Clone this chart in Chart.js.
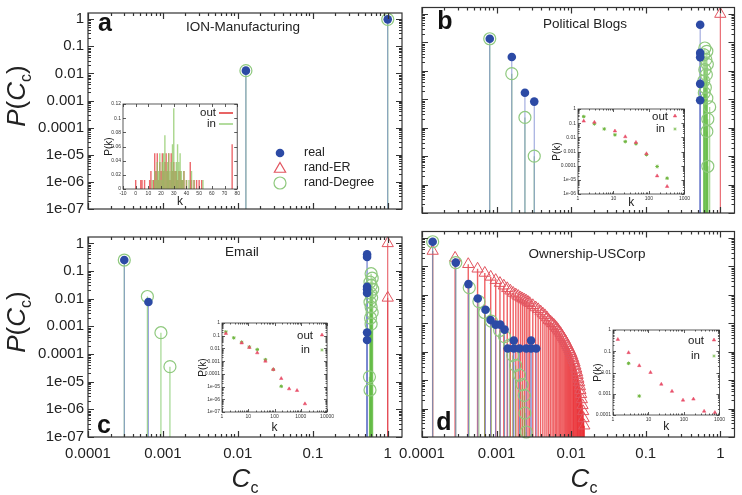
<!DOCTYPE html>
<html>
<head>
<meta charset="utf-8">
<title>Closeness centrality distributions</title>
<script src="https://cdn.jsdelivr.net/npm/chart.js@4.4.1/dist/chart.umd.min.js"></script>
<style>
  body { margin: 0; background: #fff; }
  #wrap { position: relative; width: 742px; height: 495px; overflow: hidden; font-family: "Liberation Sans", Arial, sans-serif; color: #222; }
  #wrap canvas { position: absolute; }
  .txt { position: absolute; z-index: 2; white-space: nowrap; line-height: 1; transform: translate(-50%, -50%); }
  .tag { font-weight: bold; font-size: 25px; color: #111; }
  .name { font-size: 13.5px; }
  .ax { font-size: 26px; }
  .ax sub { font-size: 16px; vertical-align: -6px; line-height: 0; }
  .rot { transform: translate(-50%, -50%) rotate(-90deg); }
</style>
</head>
<body>
<div id="wrap">
  <div class="txt tag" style="left:105px;top:22px">a</div>
  <div class="txt tag" style="left:445px;top:20px">b</div>
  <div class="txt tag" style="left:104px;top:424px">c</div>
  <div class="txt tag" style="left:444px;top:421px">d</div>
  <div class="txt name" style="left:243px;top:27px">ION-Manufacturing</div>
  <div class="txt name" style="left:585px;top:24px">Political Blogs</div>
  <div class="txt name" style="left:242px;top:252px">Email</div>
  <div class="txt name" style="left:587px;top:254px">Ownership-USCorp</div>
  <div class="txt ax rot" style="left:16px;top:96px"><i>P</i>(<i>C</i><sub>c</sub>)</div>
  <div class="txt ax rot" style="left:16px;top:322px"><i>P</i>(<i>C</i><sub>c</sub>)</div>
  <div class="txt ax" style="left:245px;top:478px"><i>C</i><sub>c</sub></div>
  <div class="txt ax" style="left:584px;top:478px"><i>C</i><sub>c</sub></div>
</div>
<script>
// main axes
const ccTicks = [0.0001, 0.001, 0.01, 0.1, 1];
const ccTickLabels = ['0.0001', '0.001', '0.01', '0.1', '1'];
const pTicks = [1e-7, 1e-6, 1e-5, 1e-4, 1e-3, 1e-2, 0.1, 1];
const pTickLabels = ['1e-07', '1e-06', '1e-05', '0.0001', '0.001', '0.01', '0.1', '1'];

// a: ION-Manufacturing
const ionRealX = [0.0128, 1];
const ionRealY = [0.0127, 0.99];
const ionDegX = [0.0128, 1];
const ionDegY = [0.0127, 0.99];

// b: Political Blogs
const blogRealX = [0.00081, 0.0016, 0.0024, 0.0032, 0.537, 0.537, 0.537, 0.537, 0.537];
const blogRealY = [0.135, 0.031, 0.0017, 0.00083, 0.42, 0.043, 0.03, 0.0035, 0.00093];
const blogErX = [1];
const blogErY = [1];
const blogDegX = [0.00081, 0.0016, 0.0024, 0.0032, 0.62, 0.66, 0.6, 0.64, 0.67, 0.62, 0.65, 0.6, 0.63, 0.61, 0.66, 0.72, 0.68, 0.66, 0.68];
const blogDegY = [0.135, 0.008, 0.00023, 0.00001, 0.064, 0.049, 0.037, 0.025, 0.017, 0.011, 0.0074, 0.0044, 0.0026, 0.0017, 0.0011, 0.00054, 0.0002, 0.000074, 0.0000044];

// c: Email
const mailRealX = [0.000305, 0.00064, 0.53, 0.53, 0.53, 0.53, 0.53, 0.53, 0.53];
const mailRealY = [0.25, 0.0076, 0.4, 0.32, 0.027, 0.022, 0.016, 0.0006, 0.00032];
const mailErX = [1, 1];
const mailErY = [1, 0.0107];
const mailDegX = [0.000305, 0.00062, 0.00094, 0.00124, 0.6, 0.62, 0.58, 0.6, 0.63, 0.59, 0.61, 0.58, 0.6, 0.62, 0.59, 0.6, 0.57, 0.58];
const mailDegY = [0.25, 0.012, 0.00059, 0.000035, 0.08, 0.055, 0.04, 0.03, 0.022, 0.016, 0.011, 0.0075, 0.005, 0.0032, 0.002, 0.0012, 0.000015, 0.000005];

// d: Ownership-USCorp
const corpRealX = [0.000139, 0.000284, 0.00042, 0.00056, 0.00071, 0.00083, 0.00097, 0.00112, 0.00128, 0.0017, 0.00141, 0.0017, 0.00203, 0.0029, 0.0025, 0.0029, 0.0034];
const corpRealY = [0.74, 0.137, 0.024, 0.0075, 0.003, 0.0013, 0.0009, 0.0009, 0.0006, 0.00025, 0.00013, 0.00013, 0.00013, 0.00025, 0.00013, 0.00013, 0.00013];
const corpDegX = [0.000139, 0.000284, 0.00043, 0.00058, 0.00069, 0.00085, 0.0011, 0.00128, 0.0015, 0.00165, 0.0018, 0.00203, 0.0022, 0.00235, 0.0024, 0.0025];
const corpDegY = [0.74, 0.137, 0.018, 0.0058, 0.0024, 0.0012, 0.00056, 0.00034, 0.00017, 0.000074, 0.000033, 0.000015, 0.000007, 0.0000029, 0.0000007, 0.00000015];
const corpErX = [0.000139, 0.000278, 0.000417, 0.000556, 0.000695, 0.000834, 0.000973, 0.00111, 0.00125, 0.00139,
  0.00153, 0.00167, 0.00181, 0.00195, 0.00209, 0.00222, 0.00236, 0.0025, 0.00264, 0.00278,
  0.00306, 0.00334, 0.00361, 0.00389, 0.00417, 0.00445, 0.00473, 0.005, 0.00528, 0.00556,
  0.00584, 0.00612, 0.00639, 0.00667, 0.00695, 0.00723, 0.00751, 0.00778, 0.00806, 0.00834,
  0.00862, 0.0089, 0.00917, 0.00945, 0.00973,
  0.01, 0.0103, 0.0106, 0.0108, 0.0111, 0.0114, 0.0117, 0.012, 0.0122, 0.0125,
  0.0128, 0.0131, 0.0133, 0.0136, 0.0139, 0.0142, 0.0145, 0.0147, 0.015];
const corpErY = [0.35, 0.2, 0.12, 0.083, 0.059, 0.043, 0.033, 0.026, 0.021, 0.017,
  0.014, 0.0117, 0.0102, 0.0091, 0.0081, 0.0074, 0.0068, 0.0062, 0.0056, 0.0051,
  0.0043, 0.0036, 0.0031, 0.0026, 0.0022, 0.0019, 0.0016, 0.0013, 0.00115, 0.001,
  0.00089, 0.00078, 0.00068, 0.00059, 0.00051, 0.00044, 0.00037, 0.00032, 0.00028, 0.00024,
  0.0002, 0.00017, 0.000145, 0.000123, 0.000105,
  0.000089, 0.000074, 0.00006, 0.00005, 0.000041, 0.000032, 0.000025, 0.000019, 0.000015, 0.000011,
  0.0000083, 0.000006, 0.0000044, 0.0000032, 0.0000021, 0.0000013, 0.0000008, 0.00000045, 0.00000025];

// insets: degree distributions
const ionOutK = [0, 4, 5, 7, 11, 12, 14, 15, 16, 17, 18, 19, 20, 21, 22, 23, 24, 25, 26, 27, 28, 29, 30, 31, 32, 33, 34, 35, 36, 37, 38, 40, 43, 44, 46, 48, 50, 52, 76];
const ionOutP = [0.0127, 0.0127, 0.0127, 0.0127, 0.0127, 0.0253, 0.0127, 0.0506, 0.0253, 0.0506, 0.0127, 0.038, 0.0253, 0.0506, 0.0253, 0.038, 0.0506, 0.0253, 0.0506, 0.0127, 0.0506, 0.0253, 0.038, 0.0253, 0.0253, 0.0127, 0.0253, 0.0253, 0.0127, 0.0127, 0.0253, 0.0127, 0.038, 0.0127, 0.0127, 0.0127, 0.0127, 0.0127, 0.0633];
const ionInK = [13, 15, 16, 17, 18, 19, 20, 21, 22, 23, 24, 25, 26, 27, 28, 29, 30, 31, 32, 33, 34, 35, 36, 37, 38, 40, 42, 44, 46, 53];
const ionInP = [0.0127, 0.0253, 0.0127, 0.038, 0.0253, 0.0506, 0.0127, 0.038, 0.0506, 0.076, 0.0253, 0.038, 0.0506, 0.0253, 0.038, 0.0633, 0.114, 0.0253, 0.038, 0.0633, 0.038, 0.0506, 0.0253, 0.0127, 0.0253, 0.0127, 0.0127, 0.0253, 0.0127, 0.0127];
const ionKTicks = [-10, 0, 10, 20, 30, 40, 50, 60, 70, 80];
const ionKLabels = ['-10', '0', '10', '20', '30', '40', '50', '60', '70', '80'];
const ionPTicks = [0, 0.02, 0.04, 0.06, 0.08, 0.1, 0.12];
const ionPLabels = ['0', '0.02', '0.04', '0.06', '0.08', '0.1', '0.12'];

const blogOutK = [1.45, 2.9, 11, 21.5, 43, 85, 170, 325];
const blogOutP = [0.14, 0.115, 0.028, 0.011, 0.0044, 0.0007, 0.000019, 0.0000034];
const blogInK = [1.45, 2.9, 5.5, 11, 21.5, 43, 85, 170, 325];
const blogInP = [0.29, 0.09, 0.039, 0.015, 0.005, 0.0035, 0.0006, 0.000087, 0.000013];

const mailOutK = [1.4, 5.6, 11, 22, 45, 90, 180, 360, 720, 1440];
const mailOutP = [0.15, 0.027, 0.012, 0.0045, 0.001, 0.00022, 0.000043, 0.0000066, 0.0000049, 0.00000044];
const mailInK = [1.4, 2.8, 5.6, 11, 22, 45, 90, 180];
const mailInP = [0.2, 0.068, 0.031, 0.013, 0.0082, 0.0013, 0.00022, 0.0000105];

const corpOutK = [1.37, 2.75, 5.5, 11.4, 23, 46, 94, 185, 370, 745];
const corpOutP = [0.36, 0.086, 0.021, 0.01, 0.0028, 0.0013, 0.0005, 0.00056, 0.00015, 0.00013];
const corpInK = [2.75, 5.5];
const corpInP = [0.027, 0.00078];

const kTicks = [1, 10, 100, 1000, 10000];
const kLabels = ['1', '10', '100', '1000', '10000'];
const pkTicks = [1e-7, 1e-6, 1e-5, 1e-4, 1e-3, 1e-2, 0.1, 1];
const pkLabels = ['1e-07', '1e-06', '1e-05', '0.0001', '0.001', '0.01', '0.1', '1'];

const BLUE = '#2c4aa5';
const RED = '#e2545f';
const GREEN = '#8fc97e';
const FONT = '"Liberation Sans", Arial, sans-serif';

const pts = (xs, ys) => xs.map((x, i) => ({ x: x, y: ys[i] }));

function addCanvas(left, top, w, h) {
  const c = document.createElement('canvas');
  c.width = w;
  c.height = h;
  c.style.left = left + 'px';
  c.style.top = top + 'px';
  document.getElementById('wrap').appendChild(c);
  return c;
}

// vertical impulses from each point down to the bottom of the plot
const stemPlugin = {
  id: 'stems',
  beforeDatasetsDraw(chart) {
    const { ctx, chartArea: a } = chart;
    ctx.save();
    ctx.beginPath();
    ctx.rect(a.left, a.top, a.right - a.left, a.bottom - a.top);
    ctx.clip();
    for (let i = chart.data.datasets.length - 1; i >= 0; i--) {
      const ds = chart.data.datasets[i];
      if (!ds.stemColor) continue;
      ctx.strokeStyle = ds.stemColor;
      ctx.lineWidth = ds.stemWidth || 1;
      chart.getDatasetMeta(i).data.forEach(p => {
        ctx.beginPath();
        ctx.moveTo(p.x, p.y);
        ctx.lineTo(p.x, a.bottom);
        ctx.stroke();
      });
    }
    ctx.restore();
  }
};

// gnuplot style box with inward ticks on all four sides
function framePlugin(major, minor, width) {
  return {
    id: 'frame',
    beforeDraw(chart) {
      const { ctx, chartArea: a } = chart;
      ctx.save();
      ctx.fillStyle = '#fff';
      ctx.fillRect(a.left, a.top, a.right - a.left, a.bottom - a.top);
      ctx.restore();
    },
    afterDatasetsDraw(chart) {
      const { ctx, chartArea: a, scales } = chart;
      const marks = scale => {
        const out = scale.ticks.map(t => [t.value, major]);
        if (scale.type === 'logarithmic' && minor) {
          const e0 = Math.floor(Math.log10(scale.min)), e1 = Math.ceil(Math.log10(scale.max));
          for (let e = e0; e <= e1; e++) {
            for (let m = 2; m <= 9; m++) {
              const v = m * Math.pow(10, e);
              if (v > scale.min && v < scale.max) out.push([v, minor]);
            }
          }
        }
        return out;
      };
      ctx.save();
      ctx.strokeStyle = '#333';
      ctx.lineWidth = width;
      ctx.beginPath();
      marks(scales.x).forEach(([v, len]) => {
        const px = Math.round(scales.x.getPixelForValue(v)) + 0.5;
        ctx.moveTo(px, a.bottom); ctx.lineTo(px, a.bottom - len);
        ctx.moveTo(px, a.top); ctx.lineTo(px, a.top + len);
      });
      marks(scales.y).forEach(([v, len]) => {
        const py = Math.round(scales.y.getPixelForValue(v)) + 0.5;
        ctx.moveTo(a.left, py); ctx.lineTo(a.left + len, py);
        ctx.moveTo(a.right, py); ctx.lineTo(a.right - len, py);
      });
      ctx.stroke();
      ctx.strokeRect(a.left, a.top, a.right - a.left, a.bottom - a.top);
      ctx.restore();
    }
  };
}

// key entries, given in page coordinates
function keyPlugin(items, size, ox, oy) {
  return {
    id: 'key',
    afterDraw(chart) {
      const ctx = chart.ctx;
      ctx.save();
      ctx.font = size + 'px ' + FONT;
      ctx.textBaseline = 'middle';
      items.forEach(it => {
        ctx.fillStyle = '#222';
        ctx.textAlign = it.align || 'left';
        ctx.fillText(it.text, it.tx - ox, it.ty - oy);
        ctx.strokeStyle = it.color;
        ctx.fillStyle = it.fill || 'rgba(0,0,0,0)';
        if (it.style === 'line') {
          ctx.lineWidth = 1.5;
          ctx.beginPath();
          ctx.moveTo(it.mx - ox, it.my - oy);
          ctx.lineTo(it.mx + 14 - ox, it.my - oy);
          ctx.stroke();
        } else {
          Chart.helpers.drawPoint(ctx, { pointStyle: it.style, radius: it.r, borderWidth: it.bw, rotation: 0 }, it.mx - ox, it.my - oy);
        }
      });
      ctx.restore();
    }
  };
}

function fixedTicks(values) {
  return scale => { scale.ticks = values.map(v => ({ value: v })); };
}

function mainPanel(box, datasets, showX, showY, extra) {
  const cv = addCanvas(box.left, box.top, box.w, box.h);
  return new Chart(cv, {
    type: 'scatter',
    data: { datasets: datasets },
    options: {
      responsive: false,
      animation: false,
      events: [],
      layout: { padding: { left: 0, top: box.padTop, right: box.padRight, bottom: 0 } },
      plugins: { legend: { display: false }, tooltip: { enabled: false } },
      scales: {
        x: {
          type: 'logarithmic', min: 1e-4, max: 1.55,
          afterBuildTicks: fixedTicks(ccTicks),
          afterFit: s => { s.height = box.xh; },
          grid: { display: false, drawTicks: false },
          border: { display: false },
          ticks: { display: showX, autoSkip: false, maxRotation: 0, padding: 8, color: '#222',
            font: { family: FONT, size: 15 }, callback: (v, i) => ccTickLabels[i] }
        },
        y: {
          type: 'logarithmic', min: 1e-7, max: 1.7,
          afterBuildTicks: fixedTicks(pTicks),
          afterFit: s => { s.width = box.yw; },
          grid: { display: false, drawTicks: false },
          border: { display: false },
          ticks: { display: showY, autoSkip: false, padding: 4, color: '#222',
            font: { family: FONT, size: 15 }, callback: (v, i) => pTickLabels[i] }
        }
      }
    },
    plugins: [stemPlugin, framePlugin(6, 3, 1.2)].concat(extra || [])
  });
}

function insetPanel(box, datasets, xs, ys, key) {
  const cv = addCanvas(box.left, box.top, box.w, box.h);
  const tickFont = { family: FONT, size: 5 };
  return new Chart(cv, {
    type: 'scatter',
    data: { datasets: datasets },
    options: {
      responsive: false,
      animation: false,
      events: [],
      layout: { padding: { left: 0, top: box.padTop, right: box.padRight, bottom: 0 } },
      plugins: { legend: { display: false }, tooltip: { enabled: false } },
      scales: {
        x: {
          type: xs.type, min: xs.min, max: xs.max,
          afterBuildTicks: fixedTicks(xs.ticks),
          afterFit: s => { s.height = box.xh; },
          grid: { display: false, drawTicks: false },
          border: { display: false },
          title: { display: true, text: 'k', padding: 0, color: '#222', font: { family: FONT, size: 12 } },
          ticks: { autoSkip: false, maxRotation: 0, padding: 2, color: '#333', font: tickFont,
            callback: (v, i) => xs.labels[i] }
        },
        y: {
          type: ys.type, min: ys.min, max: ys.max,
          afterBuildTicks: fixedTicks(ys.ticks),
          afterFit: s => { s.width = box.yw; },
          grid: { display: false, drawTicks: false },
          border: { display: false },
          title: { display: true, text: 'P(k)', padding: 0, color: '#222', font: { family: FONT, size: 10 } },
          ticks: { autoSkip: false, padding: 2, color: '#333', font: tickFont,
            callback: (v, i) => ys.labels[i] }
        }
      }
    },
    plugins: [stemPlugin, framePlugin(3, 1.5, 0.8), keyPlugin(key, 11.5, box.left, box.top)]
  });
}

// dataset styles
const realSet = (xs, ys) => ({ data: pts(xs, ys), pointStyle: 'circle', pointRadius: 4.3,
  backgroundColor: BLUE, borderColor: BLUE, borderWidth: 0, clip: false,
  stemColor: 'rgba(118,132,208,0.8)', stemWidth: 1 });
const erSet = (xs, ys, stem, w) => ({ data: pts(xs, ys), pointStyle: 'triangle', pointRadius: 6.5,
  backgroundColor: 'rgba(0,0,0,0)', borderColor: RED, borderWidth: 1, clip: false,
  stemColor: stem, stemWidth: w || 1 });
const degSet = (xs, ys, stemW) => ({ data: pts(xs, ys), pointStyle: 'circle', pointRadius: 6,
  backgroundColor: 'rgba(0,0,0,0)', borderColor: GREEN, borderWidth: 1.2, clip: false,
  stemColor: 'rgba(100,188,70,0.6)', stemWidth: stemW || 1.2 });

// a
mainPanel({ left: 0, top: 0, w: 410, h: 222, padTop: 6, padRight: 8, yw: 88, xh: 9 },
  [realSet(ionRealX, ionRealY), degSet(ionDegX, ionDegY)], false, true,
  [keyPlugin([
    { text: 'real', tx: 304, ty: 153, mx: 280, my: 153, style: 'circle', r: 4.3, bw: 0, color: BLUE, fill: BLUE },
    { text: 'rand-ER', tx: 304, ty: 168, mx: 280, my: 169, style: 'triangle', r: 6.5, bw: 1, color: RED },
    { text: 'rand-Degree', tx: 304, ty: 183, mx: 280, my: 183, style: 'circle', r: 6, bw: 1.2, color: GREEN }
  ], 12.5, 0, 0)]);

// b
mainPanel({ left: 380, top: 0, w: 362, h: 222, padTop: 6, padRight: 6, yw: 42, xh: 9 },
  [realSet(blogRealX, blogRealY), erSet(blogErX, blogErY, 'rgba(226,60,70,0.9)'), degSet(blogDegX, blogDegY)],
  false, false);

// c
mainPanel({ left: 0, top: 224, w: 410, h: 271, padTop: 6, padRight: 8, yw: 88, xh: 58 },
  [realSet(mailRealX, mailRealY), erSet(mailErX, mailErY, 'rgba(226,60,70,0.9)'), degSet(mailDegX, mailDegY)],
  true, true);

// d
mainPanel({ left: 380, top: 224, w: 362, h: 271, padTop: 6, padRight: 6, yw: 42, xh: 58 },
  [realSet(corpRealX, corpRealY), degSet(corpDegX, corpDegY, 1), erSet(corpErX, corpErY, 'rgba(232,30,35,0.7)', 1.4)],
  true, false);

// insets
const outMark = { pointStyle: 'triangle', pointRadius: 2, backgroundColor: '#e8506a', borderColor: '#e8506a', borderWidth: 0.5, clip: false };
const inMark = { pointStyle: 'star', pointRadius: 1.8, backgroundColor: '#6fb63f', borderColor: '#6fb63f', borderWidth: 1, clip: false };
const logK = (max) => ({ type: 'logarithmic', min: 1, max: max, ticks: kTicks.filter(v => v <= max), labels: kLabels });
const logP = (min) => ({ type: 'logarithmic', min: min, max: 1, ticks: pkTicks.filter(v => v >= min), labels: pkLabels.slice(pkTicks.indexOf(min)) });

insetPanel({ left: 103, top: 98, w: 139, h: 111, padTop: 6, padRight: 3, yw: 20, xh: 20 },
  [{ data: pts(ionInK, ionInP), pointRadius: 0, stemColor: 'rgba(140,200,100,0.75)', stemWidth: 1.4 },
   { data: pts(ionOutK, ionOutP), pointRadius: 0, stemColor: 'rgba(228,40,45,0.7)', stemWidth: 1.4 }],
  { type: 'linear', min: -10, max: 80, ticks: ionKTicks, labels: ionKLabels },
  { type: 'linear', min: 0, max: 0.12, ticks: ionPTicks, labels: ionPLabels },
  [{ text: 'out', align: 'right', tx: 216, ty: 113, mx: 219, my: 113, style: 'line', color: '#e03030' },
   { text: 'in', align: 'right', tx: 216, ty: 124, mx: 219, my: 124, style: 'line', color: '#9ad07e' }]);

insetPanel({ left: 551, top: 103, w: 141, h: 107, padTop: 6, padRight: 3, yw: 27, xh: 16 },
  [Object.assign({ data: pts(blogOutK, blogOutP) }, outMark), Object.assign({ data: pts(blogInK, blogInP) }, inMark)],
  logK(1000), logP(1e-6),
  [{ text: 'out', align: 'right', tx: 668, ty: 117, mx: 675, my: 116, style: 'triangle', r: 2, bw: 0.5, color: '#e8506a', fill: '#e8506a' },
   { text: 'in', align: 'right', tx: 665, ty: 129, mx: 675, my: 129, style: 'star', r: 1.8, bw: 1, color: '#6fb63f' }]);

insetPanel({ left: 197, top: 317, w: 139, h: 118, padTop: 6, padRight: 3, yw: 25, xh: 23 },
  [Object.assign({ data: pts(mailOutK, mailOutP) }, outMark), Object.assign({ data: pts(mailInK, mailInP) }, inMark)],
  logK(10000), logP(1e-7),
  [{ text: 'out', align: 'right', tx: 313, ty: 336, mx: 322, my: 335, style: 'triangle', r: 2, bw: 0.5, color: '#e8506a', fill: '#e8506a' },
   { text: 'in', align: 'right', tx: 310, ty: 350, mx: 322, my: 350, style: 'star', r: 1.8, bw: 1, color: '#6fb63f' }]);

insetPanel({ left: 592, top: 324, w: 135, h: 110, padTop: 6, padRight: 3, yw: 21, xh: 19 },
  [Object.assign({ data: pts(corpOutK, corpOutP) }, outMark), Object.assign({ data: pts(corpInK, corpInP) }, inMark)],
  logK(1000), logP(1e-4),
  [{ text: 'out', align: 'right', tx: 704, ty: 341, mx: 714, my: 340, style: 'triangle', r: 2, bw: 0.5, color: '#e8506a', fill: '#e8506a' },
   { text: 'in', align: 'right', tx: 700, ty: 356, mx: 714, my: 356, style: 'star', r: 1.8, bw: 1, color: '#6fb63f' }]);
</script>
</body>
</html>
